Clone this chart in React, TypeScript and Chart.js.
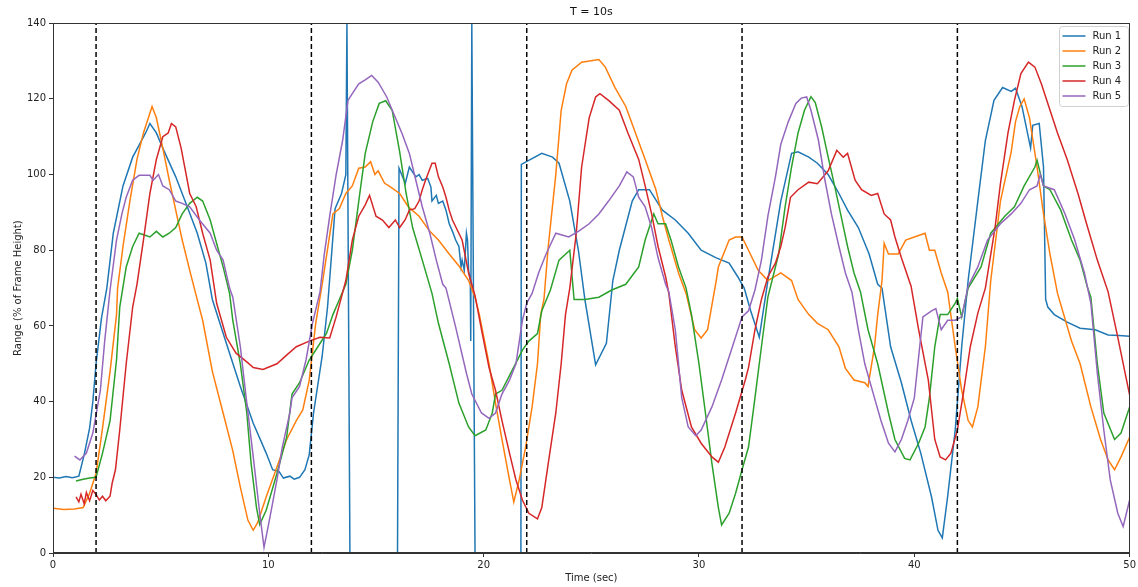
import React, { useEffect, useRef } from "react";
import { Chart, registerables } from "chart.js";

Chart.register(...registerables);

const TITLE = "T = 10s";
const X_LABEL = "Time (sec)";
const Y_LABEL = "Range (% of Frame Height)";
const RUN_NAMES = ["Run 1", "Run 2", "Run 3", "Run 4", "Run 5"];
const RUN_COLORS = ["#1f77b4", "#ff7f0e", "#2ca02c", "#d62728", "#9467bd"];
const CYCLE_STARTS = [2, 12, 22, 32, 42];
const X_TICKS = [0, 10, 20, 30, 40, 50];
const Y_TICKS = [0, 20, 40, 60, 80, 100, 120, 140];

const run1: number[][] = [
  [0, 20], [0.3, 19.8], [0.6, 20.2], [0.9, 19.9], [1.2, 20.3], [1.45, 26], [1.7, 33], [1.85, 40], [2.0, 50],
  [2.25, 62], [2.5, 70], [2.8, 84.5], [3.25, 97], [3.7, 104.6], [4.0, 107.8], [4.3, 111], [4.5, 113.5], [4.8, 111],
  [5.1, 107], [5.7, 99.4], [6.2, 92], [6.7, 84.5], [7.1, 76.6], [7.4, 67], [8.05, 55.4], [8.7, 44], [9.3, 34.3],
  [9.9, 26.4], [10.2, 22], [10.5, 21.5], [10.7, 19.8], [11.0, 20.3], [11.2, 19.5], [11.45, 20], [11.7, 22], [11.9, 26],
  [12.1, 37], [12.5, 52], [12.75, 65], [13.1, 91], [13.4, 95], [13.6, 100], [13.65, 140], [13.79, 0], [16.0, 0],
  [16.07, 101.7], [16.36, 97.7], [16.55, 102], [16.85, 99.4], [17.0, 100], [17.15, 98.5], [17.4, 99], [17.55, 96.7],
  [17.6, 93], [17.8, 94.5], [17.9, 92.4], [18.1, 93], [18.25, 90.6], [18.4, 87], [18.55, 85], [18.7, 82.7],
  [18.85, 81], [18.95, 75.6], [19.0, 77.4], [19.1, 74.7], [19.2, 84.5], [19.25, 82.7], [19.3, 74.7], [19.38, 72],
  [19.4, 56], [19.45, 140], [19.6, 0], [21.73, 0], [21.75, 102.7], [22.7, 105.6],
  [23.2, 104.6], [23.5, 103], [24.0, 93], [24.4, 80], [24.7, 67], [25.2, 49.7], [25.7, 55.4], [26.0, 72], [26.3, 80],
  [26.9, 93], [27.2, 96], [27.7, 96], [28.3, 90.6], [28.9, 88], [29.5, 84.5], [30.1, 80], [30.8, 78], [31.4, 76.6],
  [31.8, 73], [32.1, 70], [32.4, 64], [32.8, 57], [33.2, 72], [33.8, 93], [34.3, 105.6], [34.6, 106], [35.1, 104.6],
  [35.5, 103], [36.0, 100], [36.5, 95], [36.9, 90.6], [37.4, 86], [37.9, 79], [38.3, 71], [38.5, 70], [38.9, 54.5],
  [39.4, 45], [39.85, 35], [40.3, 26.4], [40.8, 14.8], [41.1, 6], [41.3, 4], [41.55, 15], [41.9, 32.5], [42.2, 54.5],
  [42.5, 72], [42.95, 93], [43.3, 109], [43.7, 119.6], [44.1, 123], [44.5, 122], [44.7, 122.8], [45.0, 118],
  [45.4, 107], [45.5, 113], [45.8, 113.5], [46.0, 102], [46.1, 67], [46.2, 65], [46.5, 63], [47.1, 61], [47.7, 59.4],
  [48.4, 59], [49.0, 57.6], [49.5, 57.5], [50, 57.3],
];

const run2: number[][] = [
  [0, 11.8], [0.5, 11.5], [1.0, 11.6], [1.4, 12], [1.7, 15.8], [2.0, 21], [2.3, 33], [2.65, 48], [2.95, 63], [3.0, 70],
  [3.25, 81], [3.57, 93], [3.9, 104], [4.2, 111], [4.6, 118], [4.8, 115], [5.1, 107], [5.4, 98.5], [5.7, 90.6],
  [6.0, 82.7], [6.35, 74.7], [6.65, 68], [6.95, 61.5], [7.4, 48], [7.9, 37], [8.35, 27], [8.7, 17.4], [9.05, 8.7],
  [9.3, 6], [9.5, 8], [9.9, 14.8], [10.4, 22.7], [10.85, 30], [11.3, 35], [11.6, 37.8], [11.9, 45.7], [12.2, 60.7],
  [12.5, 71], [13.0, 89.6], [13.3, 91], [13.6, 95], [13.9, 97], [14.2, 101.7], [14.5, 102], [14.75, 103.4], [14.95, 100],
  [15.1, 101], [15.4, 97.7], [15.6, 97], [16.1, 95], [16.5, 91.5], [17.0, 89], [17.5, 85], [17.9, 82.7], [18.4, 79],
  [18.9, 75.5], [19.3, 72],
  [19.6, 67.6], [19.8, 63], [20.25, 50], [20.55, 39.6], [20.85, 30], [21.2, 19.3], [21.4, 13.5], [21.65, 19.3],
  [21.95, 28], [22.25, 38.6], [22.5, 50], [22.65, 63], [22.8, 67], [23.0, 81], [23.35, 100], [23.6, 117], [23.85, 124],
  [24.1, 127.6], [24.55, 129.7], [25.35, 130.4], [25.65, 128.4], [26.1, 123], [26.6, 118], [27.05, 111], [27.5, 104],
  [28.0, 96], [28.3, 89], [28.6, 82.7], [29.05, 74], [29.4, 68.6], [29.8, 59], [30.1, 56.8], [30.4, 59], [30.8, 72],
  [30.9, 75.6], [31.4, 82.7], [31.7, 83.5], [32.0, 83.5], [32.3, 80], [32.75, 74.7], [33.2, 72], [33.8, 74],
  [34.3, 72], [34.6, 67], [35.1, 63], [35.5, 60.7], [36.0, 59], [36.5, 54.5], [36.8, 48.8], [37.2, 45.7], [37.7, 45],
  [37.85, 44], [38.15, 54.5], [38.3, 63], [38.5, 72], [38.6, 81.8], [38.8, 79], [39.25, 79], [39.6, 82.7], [40.0, 83.5],
  [40.5, 84.5], [40.7, 80], [40.95, 80], [41.25, 74], [41.55, 69], [41.9, 54.5], [42.2, 43], [42.5, 35], [42.7, 33.3],
  [42.95, 38.6], [43.3, 54.5], [43.55, 72], [44.0, 93], [44.5, 106], [44.7, 114], [44.9, 118], [45.1, 120],
  [45.35, 115], [45.7, 102], [46.0, 89.6], [46.3, 79], [46.65, 68.6], [47.3, 56], [47.7, 50], [48.2, 38.6],
  [48.65, 30], [49.0, 24.6], [49.3, 22], [49.6, 25.4], [50, 30.6],
];

const run3: number[][] = [
  [1.07, 19], [1.4, 19.5], [1.7, 19.8], [2.0, 20], [2.3, 26.4], [2.65, 35], [2.95, 51], [3.1, 65], [3.4, 75.6],
  [3.7, 81], [4.0, 84.5], [4.5, 83.5], [4.8, 85], [5.1, 83.5], [5.4, 84.5], [5.7, 86], [6.0, 89.6], [6.35, 92.4],
  [6.7, 94], [6.95, 93], [7.3, 88], [7.6, 81.8], [7.9, 75.6], [8.2, 68.6], [8.35, 61.5], [8.7, 50], [9.0, 37],
  [9.2, 23.7], [9.45, 12], [9.6, 7.5], [9.9, 11.3], [10.4, 21], [10.85, 30.6], [11.1, 42], [11.45, 45], [11.9, 51],
  [12.3, 54.5], [12.7, 58], [13.0, 63], [13.3, 67], [13.6, 71], [13.9, 80], [14.2, 93], [14.5, 105.6], [14.85, 114],
  [15.15, 118.8], [15.45, 119.5], [15.75, 117], [16.1, 106], [16.4, 95], [16.7, 86], [17.15, 77.4], [17.6, 68.6],
  [17.9, 60.7], [18.4, 50], [18.85, 39.6], [19.3, 33.3], [19.6, 31], [20.1, 32.5], [20.4, 37], [20.55, 42],
  [20.85, 43], [21.3, 48], [21.8, 53.6], [22.1, 56], [22.5, 58], [22.7, 64], [23.1, 69.5], [23.5, 77.4], [24.0, 80],
  [24.2, 67], [24.7, 67], [25.35, 67.6], [25.95, 69.5], [26.6, 71], [27.2, 75.6], [27.5, 82.7], [27.9, 89.6],
  [28.1, 87], [28.45, 87], [28.7, 82.7], [29.05, 75.6], [29.4, 70], [29.65, 63], [30.0, 50], [30.3, 37], [30.6, 23.7],
  [30.9, 12], [31.05, 7.4], [31.4, 10.5], [31.7, 15.8], [32.0, 22], [32.3, 28], [32.6, 41], [32.9, 54.5], [33.2, 67.6],
  [33.7, 79], [34.0, 91.5], [34.3, 102], [34.6, 111], [34.9, 117], [35.2, 120.6], [35.4, 119], [35.7, 112.5],
  [36.0, 104.6], [36.3, 97], [36.6, 89], [36.9, 81], [37.2, 74], [37.5, 69], [37.85, 59], [38.3, 50], [38.8, 37],
  [39.1, 30], [39.55, 25], [39.8, 24.6], [40.2, 29], [40.5, 33.3], [40.7, 41], [40.95, 54.5], [41.2, 63], [41.55, 63],
  [41.9, 66], [42.0, 67.3], [42.2, 62.4], [42.5, 70], [43.1, 75.6], [43.55, 84.5], [44.2, 89], [44.65, 91.5],
  [45.1, 97], [45.6, 102], [45.7, 103.8], [46.0, 97], [46.3, 96], [46.8, 90.6], [47.3, 82.7], [47.7, 77.4],
  [48.05, 70], [48.2, 67.6], [48.5, 50], [48.8, 37], [49.3, 30], [49.6, 31.7], [50, 38.6],
];

const run4: number[][] = [
  [1.07, 14.8], [1.2, 13.5], [1.3, 15.5], [1.45, 13], [1.55, 16], [1.7, 13.8], [1.85, 16.5], [2.0, 15.5], [2.15, 14],
  [2.3, 15], [2.45, 13.8], [2.65, 15], [2.75, 18.5], [2.9, 22], [3.1, 32.5], [3.4, 50], [3.7, 65], [3.9, 71],
  [4.2, 82.7], [4.5, 95], [4.8, 104], [5.1, 110], [5.35, 111], [5.5, 113.5], [5.7, 112.6], [5.95, 107], [6.2, 99.5],
  [6.35, 95], [6.65, 91.5], [6.95, 84.5], [7.3, 77.4], [7.6, 66], [8.05, 57], [8.5, 52.8], [9.0, 50.5], [9.3, 49],
  [9.75, 48.5], [10.4, 50], [10.85, 52.3], [11.3, 54.5], [11.9, 56], [12.4, 57], [12.85, 56.8], [13.15, 62.4],
  [13.6, 72], [13.9, 82.7], [14.2, 89], [14.5, 92], [14.7, 94.5], [15.0, 89], [15.3, 88], [15.6, 86], [15.9, 88],
  [16.1, 86], [16.35, 88], [16.55, 90.6], [16.8, 91], [17.0, 93], [17.15, 96], [17.3, 98.5], [17.6, 103], [17.75, 103],
  [17.9, 99.4], [18.1, 96.7], [18.25, 94], [18.4, 90.6], [18.55, 88], [19.0, 82.7], [19.3, 74],
  [19.6, 68], [19.9, 59], [20.25, 49], [20.55, 43], [20.85, 35], [21.2, 26.4], [21.5, 19.3],
  [21.8, 14], [22.1, 10.5], [22.5, 9], [22.7, 12], [23.0, 23.7], [23.35, 37], [23.6, 50], [23.8, 63], [24.0, 70],
  [24.3, 84.5], [24.55, 102], [24.9, 115], [25.2, 120.5], [25.4, 121.4], [25.8, 119.6], [26.3, 117], [26.7, 111],
  [27.2, 104], [27.5, 97], [27.8, 89.6], [28.1, 81], [28.45, 73], [28.6, 68.6], [28.9, 54.5], [29.2, 43],
  [29.65, 33.3], [30.1, 29], [30.6, 25.4], [30.9, 24], [31.2, 28], [31.7, 37], [32.15, 45.7], [32.3, 49], [32.6, 59],
  [32.9, 67], [33.2, 73], [33.55, 76.6], [33.8, 81], [34.0, 86], [34.25, 94], [34.6, 96], [35.1, 98], [35.5, 97.6],
  [36.0, 101], [36.4, 106.4], [36.7, 104.6], [36.9, 105.6], [37.25, 98.5], [37.55, 96], [38.0, 94.5], [38.3, 95],
  [38.6, 89.6], [38.9, 88], [39.1, 83.5], [39.4, 78], [39.85, 70.5], [40.2, 59], [40.65, 45.7], [40.95, 30],
  [41.2, 25.4], [41.45, 24.6], [41.7, 26.4], [42.0, 32.5], [42.3, 43], [42.6, 54.5], [42.95, 63.4], [43.3, 70],
  [43.75, 86], [44.0, 97.6], [44.35, 111], [44.65, 119.6], [44.95, 126.7], [45.3, 129.7], [45.6, 128.4], [45.9, 124],
  [46.2, 118.8], [46.65, 111], [47.1, 104], [47.6, 95], [48.05, 86], [48.5, 77.4], [49.0, 69], [49.45, 57],
  [50, 41.7],
];

const run5: number[][] = [
  [1.0, 25.6], [1.25, 24.6], [1.55, 26.4], [1.85, 31.7], [2.2, 43], [2.4, 56], [2.65, 69.5], [2.95, 82.7], [3.2, 89.6],
  [3.4, 94], [3.7, 98.5], [4.0, 99.8], [4.5, 99.8], [4.65, 98.5], [4.9, 100], [5.1, 97], [5.4, 96], [5.7, 93],
  [6.0, 92.4], [6.35, 91.5], [6.8, 88], [7.3, 84.5], [7.6, 80], [7.9, 77.4], [8.2, 70], [8.35, 67.6], [8.7, 54.5],
  [9.0, 39.6], [9.3, 25.4], [9.6, 10.5], [9.8, 1.5], [10.05, 8.7], [10.4, 19.3], [10.65, 28], [11.0, 37], [11.1, 41],
  [11.45, 44], [11.75, 51], [12.05, 60.7], [12.4, 69], [12.6, 79], [12.85, 89], [13.15, 100], [13.45, 109],
  [13.7, 119.6], [13.9, 121.4], [14.2, 124], [14.5, 125], [14.8, 126.2], [15.1, 124.4], [15.5, 120.5], [15.9, 115],
  [16.2, 111], [16.55, 105.6], [16.85, 98.5], [17.15, 91.5], [17.5, 84.5], [17.8, 77.4], [18.1, 71], [18.25, 70],
  [18.7, 59.7], [19.2, 47.5], [19.45, 42], [19.9, 37], [20.25, 35.6], [20.55, 37], [20.85, 42], [21.2, 45.7],
  [21.5, 50], [21.8, 61.5], [22.0, 66], [22.25, 68.6], [22.55, 74], [22.9, 79], [23.35, 84.5], [23.95, 83.5],
  [24.4, 85], [24.9, 87], [25.35, 89.6], [25.8, 93], [26.3, 97], [26.65, 100.7], [26.95, 99.4], [27.2, 94],
  [27.5, 91.5], [27.8, 86], [28.1, 78], [28.45, 71], [28.6, 69], [28.9, 59], [29.2, 41], [29.5, 33.3], [29.85, 31],
  [30.1, 32.5], [30.6, 38.6], [31.05, 45.7], [31.5, 53.6], [32.0, 62.4], [32.3, 64], [32.6, 69.5], [32.9, 77.4],
  [33.2, 89], [33.55, 99.4], [33.8, 108], [34.15, 114], [34.5, 118.8], [34.75, 120.2], [35.0, 120.5], [35.2, 117],
  [35.55, 109], [35.85, 98.5], [36.15, 89.6], [36.5, 81], [36.8, 74], [37.1, 69], [37.4, 59], [37.7, 50], [38.15, 41],
  [38.45, 35], [38.8, 29], [39.1, 26.7], [39.4, 30], [39.7, 35], [40.0, 41], [40.25, 54.5], [40.4, 62.4], [40.8, 64],
  [41.0, 64.6], [41.25, 59], [41.55, 61.5], [41.9, 61.5], [42.2, 62.4], [42.5, 70.5], [42.95, 75.6], [43.4, 82.7],
  [44.0, 87], [44.5, 89.6], [44.95, 92.4], [45.35, 96], [45.7, 97], [45.85, 100], [46.0, 97], [46.5, 96],
  [47.0, 89.6], [47.45, 82.7], [47.9, 74], [48.2, 66], [48.5, 47.5], [48.8, 32.5], [49.1, 19.3], [49.45, 10.5],
  [49.7, 7], [50, 14],
];

const RUNS = [run1, run2, run3, run4, run5];
const Y_MIN = 0;
const Y_MAX = 140;
const FONT = "'DejaVu Sans', sans-serif";

const framePlugin = {
  id: "frame",
  afterDatasetsDraw(chart: any) {
    const { ctx, chartArea } = chart;
    ctx.save();
    ctx.strokeStyle = "#333";
    ctx.lineWidth = 1;
    ctx.strokeRect(
      Math.round(chartArea.left) + 0.5,
      Math.round(chartArea.top) + 0.5,
      Math.round(chartArea.right - chartArea.left) - 1,
      Math.round(chartArea.bottom - chartArea.top) - 1
    );
    ctx.restore();
  },
};

const legendPlugin = {
  id: "mplLegend",
  afterDraw(chart: any) {
    const { ctx, chartArea } = chart;
    const boxW = 69;
    const rowH = 15;
    const boxH = RUN_NAMES.length * rowH + 5;
    const x0 = Math.round(chartArea.right) - 2 - boxW + 0.5;
    const y0 = Math.round(chartArea.top) + 3 + 0.5;
    ctx.save();
    ctx.fillStyle = "rgba(255,255,255,0.85)";
    ctx.strokeStyle = "#d0d0d0";
    ctx.lineWidth = 1;
    ctx.beginPath();
    const r = 3;
    ctx.moveTo(x0 + r, y0);
    ctx.lineTo(x0 + boxW - r, y0);
    ctx.quadraticCurveTo(x0 + boxW, y0, x0 + boxW, y0 + r);
    ctx.lineTo(x0 + boxW, y0 + boxH - r);
    ctx.quadraticCurveTo(x0 + boxW, y0 + boxH, x0 + boxW - r, y0 + boxH);
    ctx.lineTo(x0 + r, y0 + boxH);
    ctx.quadraticCurveTo(x0, y0 + boxH, x0, y0 + boxH - r);
    ctx.lineTo(x0, y0 + r);
    ctx.quadraticCurveTo(x0, y0, x0 + r, y0);
    ctx.closePath();
    ctx.fill();
    ctx.stroke();
    ctx.font = `10px ${FONT}`;
    ctx.textBaseline = "middle";
    ctx.textAlign = "left";
    RUN_NAMES.forEach((name, i) => {
      const y = Math.round(y0 + 9.5 + i * rowH);
      ctx.strokeStyle = RUN_COLORS[i];
      ctx.lineWidth = 1.5;
      ctx.beginPath();
      ctx.moveTo(x0 + 3, y);
      ctx.lineTo(x0 + 26, y);
      ctx.stroke();
      ctx.fillStyle = "#222";
      ctx.fillText(name, x0 + 33, y + 0.5);
    });
    ctx.restore();
  },
};

export default function App() {
  const canvasRef = useRef<HTMLCanvasElement | null>(null);

  useEffect(() => {
    document.body.style.margin = "0";
    const canvas = canvasRef.current;
    if (!canvas) return;

    const runSets = RUNS.map((run, i) => ({
      label: RUN_NAMES[i],
      data: run.map(([x, y]) => ({ x, y })),
      borderColor: RUN_COLORS[i],
      backgroundColor: RUN_COLORS[i],
      borderWidth: 1.5,
      pointRadius: 0,
      tension: 0,
      fill: false,
      order: 10 - i,
    }));

    const dashSets = CYCLE_STARTS.map((t) => ({
      label: `cycle ${t}`,
      data: [
        { x: t, y: Y_MIN },
        { x: t, y: Y_MAX },
      ],
      borderColor: "#000",
      borderWidth: 1.5,
      borderDash: [5, 3],
      pointRadius: 0,
      fill: false,
      order: 0,
    }));

    const chart = new Chart(canvas, {
      type: "line",
      data: { datasets: [...runSets, ...dashSets] as any },
      options: {
        responsive: false,
        animation: false,
        parsing: false as any,
        layout: { padding: { left: 0, right: 6, top: 0, bottom: 0 } },
        plugins: {
          legend: { display: false },
          tooltip: { enabled: false },
          title: {
            display: true,
            fullSize: false,
            text: TITLE,
            color: "#111",
            font: { family: FONT, size: 11, weight: "normal" as any },
            padding: { top: 6, bottom: 4 },
          },
        },
        scales: {
          x: {
            type: "linear",
            min: 0,
            max: 50,
            afterBuildTicks: (scale: any) => {
              scale.ticks = X_TICKS.map((v) => ({ value: v }));
            },
            afterFit: (scale: any) => {
              scale.height = 34;
            },
            grid: { drawOnChartArea: false, drawTicks: true, tickLength: 4, color: "#333" },
            border: { display: true, color: "#333" },
            ticks: {
              color: "#222",
              font: { family: FONT, size: 10 },
              padding: 2,
              maxRotation: 0,
              autoSkip: false,
            },
            title: {
              display: true,
              text: X_LABEL,
              color: "#222",
              font: { family: FONT, size: 10 },
              padding: { top: 0, bottom: 3 },
            },
          },
          y: {
            type: "linear",
            min: Y_MIN,
            max: Y_MAX,
            afterBuildTicks: (scale: any) => {
              scale.ticks = Y_TICKS.map((v) => ({ value: v }));
            },
            afterFit: (scale: any) => {
              scale.width = 53;
            },
            grid: { drawOnChartArea: false, drawTicks: true, tickLength: 4, color: "#333" },
            border: { display: true, color: "#333" },
            ticks: {
              color: "#222",
              font: { family: FONT, size: 10 },
              padding: 3,
              autoSkip: false,
            },
            title: {
              display: true,
              text: Y_LABEL,
              color: "#222",
              font: { family: FONT, size: 10 },
              padding: { top: 12, bottom: 0 },
            },
          },
        },
      },
      plugins: [framePlugin, legendPlugin],
    });

    return () => {
      chart.destroy();
    };
  }, []);

  return (
    <div style={{ width: 1138, height: 587, background: "#fff" }}>
      <canvas ref={canvasRef} width={1138} height={587} style={{ display: "block" }} />
    </div>
  );
}
